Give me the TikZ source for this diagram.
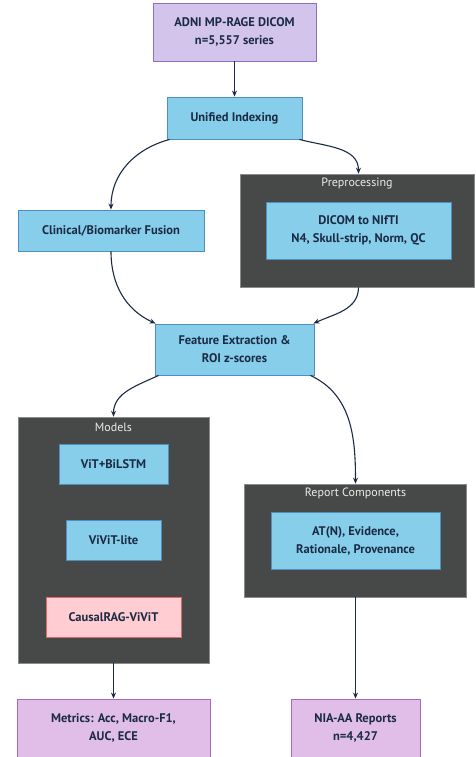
\documentclass[tikz,border=0pt]{standalone}
\usepackage{fontspec}
\setmainfont{PT Sans}
\usetikzlibrary{arrows.meta}
\definecolor{bluefill}{HTML}{87CEEB}
\definecolor{blueline}{HTML}{4F8FC0}
\definecolor{clusfill}{HTML}{474948}
\definecolor{clusline}{HTML}{8A8C8B}
\definecolor{lavfill}{HTML}{D3C4EC}
\definecolor{lavline}{HTML}{8C6FC4}
\definecolor{pinkfill}{HTML}{E1BEE7}
\definecolor{pinkline}{HTML}{A968BD}
\definecolor{rosefill}{HTML}{FFCDD2}
\definecolor{roseline}{HTML}{E06A6A}
\definecolor{ink}{HTML}{1C2B44}
\begin{document}
\begin{tikzpicture}[x=1pt,y=-1pt,
  base/.style={draw, line width=0.9pt, align=center, text=ink, font=\fontsize{12.5}{18}\selectfont\bfseries, inner sep=0pt},
  bluebox/.style={base, fill=bluefill, draw=blueline},
  lavbox/.style={base, fill=lavfill, draw=lavline},
  pinkbox/.style={base, fill=pinkfill, draw=pinkline},
  rosebox/.style={base, fill=rosefill, draw=roseline},
  cluster/.style={draw=clusline, fill=clusfill, line width=0.6pt, inner sep=0pt},
  clabel/.style={text=white!92!black, font=\fontsize{12}{14}\selectfont},
  arr/.style={draw=ink, line width=1.1pt, -{Stealth[length=6pt,width=5pt]}}
]
\useasboundingbox (0,0) rectangle (475,757);
\fill[white] (0,0) rectangle (475,757);

% clusters
\node[cluster, minimum width=234, minimum height=113] (prep) at (357,230.5) {};
\node[clabel] (preplab) at (357,184) {Preprocessing};
\node[cluster, minimum width=191, minimum height=246] (models) at (113.5,540) {};
\node[clabel] (modlab) at (113.5,427) {Models};
\node[cluster, minimum width=222, minimum height=113] (rep) at (355.5,540.5) {};
\node[clabel] (replab) at (355.5,493) {Report Components};

% nodes
\node[lavbox, minimum width=163, minimum height=58] (adni) at (234.5,32) {ADNI MP-RAGE DICOM\\n=5,557 series};
\node[bluebox, minimum width=135, minimum height=42] (uni) at (234.5,118) {Unified Indexing};
\node[bluebox, minimum width=186, minimum height=41] (clin) at (111,230.5) {Clinical/Biomarker Fusion};
\node[bluebox, minimum width=185, minimum height=57] (dicom) at (358.5,230.5) {DICOM to NIfTI\\N4, Skull-strip, Norm, QC};
\node[bluebox, minimum width=159, minimum height=51] (feat) at (234.5,349.5) {Feature Extraction \&\\ROI z-scores};
\node[bluebox, minimum width=109, minimum height=40] (vit) at (113.5,464) {ViT+BiLSTM};
\node[bluebox, minimum width=95, minimum height=40] (vivit) at (113.5,540) {ViViT-lite};
\node[rosebox, minimum width=135, minimum height=40] (causal) at (113.5,617) {CausalRAG-ViViT};
\node[bluebox, minimum width=169, minimum height=57] (atn) at (355.5,540.5) {AT(N), Evidence,\\Rationale, Provenance};
\node[pinkbox, minimum width=193, minimum height=58] (metrics) at (113.5,728) {Metrics: Acc, Macro-F1,\\AUC, ECE};
\node[pinkbox, minimum width=129, minimum height=58] (nia) at (355.5,728) {NIA-AA Reports\\n=4,427};

% connectors
\draw[arr] (adni.south) -- (uni.south |- uni.north);
\draw[arr] ([xshift=3pt]uni.south west) to[out=195, in=90] (clin.north);
\draw[arr] ([xshift=-3pt]uni.south east) to[out=-15, in=90] (prep.north -| dicom.north);
\draw[arr] (clin.south) to[out=-90, in=155] ([xshift=1pt]feat.north west);
\draw[arr] (prep.south -| dicom.south) to[out=-90, in=25] ([xshift=-1pt]feat.north east);
\draw[arr] ([xshift=4pt]feat.south west) to[out=205, in=90] (models.north);
\draw[arr] ([xshift=-4pt]feat.south east) to[out=-25, in=90] (rep.north);
\draw[arr] (models.south) -- (metrics.north);
\draw[arr] (rep.south) -- (nia.north);
\end{tikzpicture}
\end{document}
